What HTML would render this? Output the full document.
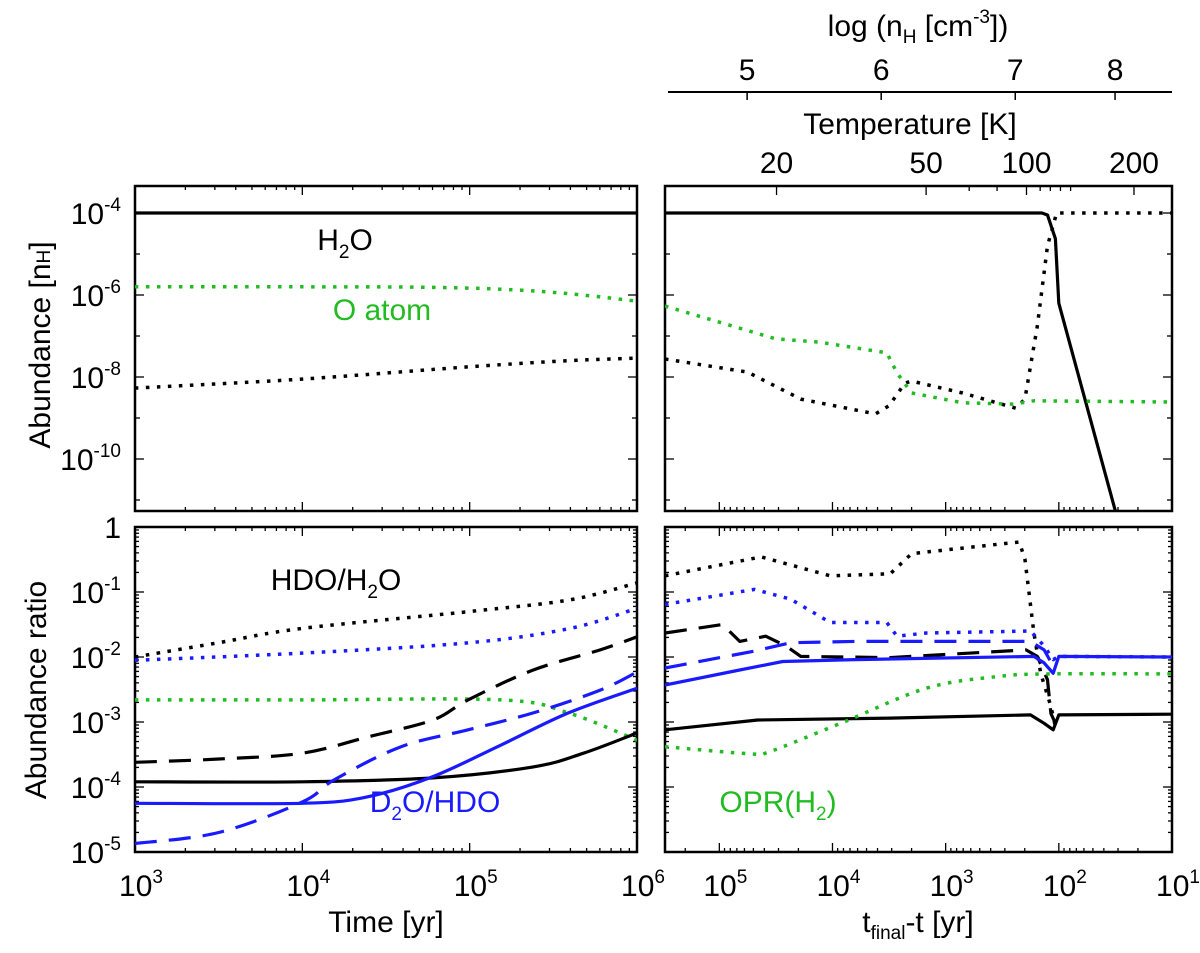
<!DOCTYPE html>
<html><head><meta charset="utf-8"><style>
html,body{margin:0;padding:0;background:#fff;}
svg{display:block;font-family:"Liberation Sans",sans-serif;}
</style></head><body>
<svg id="fig" width="1200" height="953" viewBox="0 0 1200 953" xmlns="http://www.w3.org/2000/svg">
<defs>
<clipPath id="cTL"><rect x="135" y="186" width="502" height="325"/></clipPath>
<clipPath id="cTR"><rect x="665" y="186" width="507" height="325"/></clipPath>
<clipPath id="cBL"><rect x="135" y="527" width="502" height="325"/></clipPath>
<clipPath id="cBR"><rect x="665" y="527" width="507" height="325"/></clipPath>
</defs>
<g id="layer"></g>
</svg>
<script>
// ---------- data (log10 values) ----------
const tlX = [3, 3.5, 4, 4.5, 5, 5.5, 6];
const tlH2O = [-4, -4, -4, -4, -4, -4, -4];
const tlOatomX = [3, 4, 4.7, 5.2, 5.6, 6];
const tlOatom = [-5.8, -5.8, -5.81, -5.86, -5.97, -6.15];
const tlOtherX = [3, 4, 5, 5.6, 6];
const tlOther = [-8.27, -8.05, -7.75, -7.6, -7.54];
const trH2OX = [5.48, 2.15, 2.10, 2.03, 2.0, 1.5];
const trH2O = [-4, -4, -4.05, -4.63, -6.2, -11.27];
const trOtherX = [5.48, 4.75, 4.28, 3.62, 3.5, 3.36, 3.3, 2.85, 2.38, 2.30, 2.19, 2.10, 2.02, 1.0];
const trOther = [-7.56, -7.88, -8.54, -8.9, -8.7, -8.15, -8.1, -8.39, -8.76, -8.54, -6.76, -4.8, -4.0, -4.0];
const trOatomX = [5.48, 4.5, 4.12, 3.52, 3.43, 3.3, 2.85, 2.4, 2.22, 1.0];
const trOatom = [-6.27, -7.07, -7.15, -7.41, -7.9, -8.39, -8.63, -8.66, -8.58, -8.61];
const blHdoDotX = [3, 3.5, 4, 5, 5.6, 6];
const blHdoDot = [-2.0, -1.78, -1.56, -1.3, -1.12, -0.86];
const blBlueDotX = [3, 4, 5, 5.6, 6];
const blBlueDot = [-2.05, -1.94, -1.78, -1.56, -1.25];
const blGreenX = [3, 4, 5.19, 5.59, 6];
const blGreen = [-2.66, -2.66, -2.66, -2.86, -3.28];
const blBlackDashX = [3, 3.5, 4, 4.39, 4.78, 4.99, 5.38, 5.78, 6];
const blBlackDash = [-3.62, -3.57, -3.48, -3.23, -2.97, -2.66, -2.2, -1.89, -1.69];
const blBlackX = [3, 4, 4.78, 5.38, 5.68, 6];
const blBlack = [-3.92, -3.92, -3.86, -3.69, -3.48, -3.17];
const blBlueX = [3, 4, 4.39, 4.78, 5.19, 5.59, 6];
const blBlue = [-4.25, -4.25, -4.15, -3.84, -3.35, -2.86, -2.48];
const blBlueDashX = [3, 3.5, 4, 4.19, 4.59, 4.99, 5.38, 5.78, 6];
const blBlueDash = [-4.87, -4.7, -4.23, -3.89, -3.38, -3.12, -2.86, -2.51, -2.23];
const brHdoDotX = [5.48, 4.63, 4.02, 3.49, 3.30, 2.35, 2.30, 2.22, 2.16, 2.07, 2.03];
const brHdoDot = [-0.75, -0.46, -0.75, -0.72, -0.41, -0.23, -0.49, -1.63, -2.25, -2.76, -3.07];
const brBlueDotX = [5.48, 4.69, 4.37, 4.02, 3.52, 3.43, 3.17, 2.25, 2.13, 2.05, 2.0, 1.0];
const brBlueDot = [-1.19, -0.96, -1.11, -1.47, -1.47, -1.68, -1.63, -1.6, -1.83, -2.04, -1.99, -2.0];
const brBlackDashX = [5.48, 4.97, 4.82, 4.59, 4.41, 4.28, 3.49, 2.29, 2.19, 2.10, 2.07, 2.03];
const brBlackDash = [-1.63, -1.5, -1.76, -1.68, -1.83, -1.99, -2.01, -1.89, -1.99, -2.35, -2.87, -3.02];
const brBlueDashX = [5.48, 4.69, 4.37, 3.80, 2.25, 2.13, 2.03];
const brBlueDash = [-2.17, -1.91, -1.78, -1.76, -1.76, -1.89, -2.2];
const brBlueX = [5.48, 4.82, 4.44, 3.80, 2.22, 2.13, 2.05, 2.0, 1.0];
const brBlue = [-2.43, -2.2, -2.07, -2.04, -1.99, -2.09, -2.25, -1.99, -2.0];
const brBlackX = [5.48, 4.66, 3.49, 2.25, 2.13, 2.05, 2.0, 1.0];
const brBlack = [-3.12, -2.97, -2.94, -2.89, -3.02, -3.12, -2.89, -2.88];
const brGreenX = [5.48, 4.72, 4.56, 3.90, 3.17, 2.54, 2.07, 1.0];
const brGreen = [-3.38, -3.49, -3.46, -3.0, -2.48, -2.3, -2.26, -2.26];
const leftXTicks = [3, 4, 5, 6];
const rightXTicks = [5, 4, 3, 2, 1];
const topYTicks = [-4, -6, -8, -10];
const botYTicks = [-1, -2, -3, -4, -5];
const nHTicks = [5, 6, 7, 8];
const tempTicks = [20, 50, 100, 200];
const nHFrac = [0.157, 0.423, 0.689, 0.887];
const tempFrac = [0.22, 0.515, 0.713, 0.925];

// ---------- axis functions ----------
const xL = l => 135 + (l - 3) / 3 * 502;
const xR = l => 665 + (5.48 - l) / 4.48 * 507;
const yT = v => 213 - (v + 4) * 41;
const yB = v => 527 - v * 65;

const NS = 'http://www.w3.org/2000/svg';
const layer = document.getElementById('layer');
function mk(tag, attrs, parent) {
  const e = document.createElementNS(NS, tag);
  for (const k in attrs) e.setAttribute(k, attrs[k]);
  (parent || layer).appendChild(e);
  return e;
}
const BLUE = '#1a1aff', GREEN = '#22bb22', BLACK = '#000';
const DOT = '3.5 7.5', DASH = '22 12';
function series(xs, ys, fx, fy, color, dash, clip, name, smooth) {
  const P = xs.map((x, i) => [fx(x), fy(ys[i])]);
  let d = 'M' + P[0][0].toFixed(1) + ',' + P[0][1].toFixed(1);
  for (let i = 0; i < P.length - 1; i++) {
    if (smooth) {
      const p0 = P[Math.max(i - 1, 0)], p1 = P[i], p2 = P[i + 1], p3 = P[Math.min(i + 2, P.length - 1)];
      const c1 = [p1[0] + (p2[0] - p0[0]) / 6, p1[1] + (p2[1] - p0[1]) / 6];
      const c2 = [p2[0] - (p3[0] - p1[0]) / 6, p2[1] - (p3[1] - p1[1]) / 6];
      d += 'C' + c1.map(v => v.toFixed(1)).join(',') + ' ' + c2.map(v => v.toFixed(1)).join(',') + ' ' + p2.map(v => v.toFixed(1)).join(',');
    } else {
      d += 'L' + P[i + 1][0].toFixed(1) + ',' + P[i + 1][1].toFixed(1);
    }
  }
  const p = mk('path', {d: d, fill: 'none', stroke: color, 'stroke-width': dash === DOT ? 3.5 : 3.2, 'clip-path': 'url(#' + clip + ')', 'stroke-linejoin': 'round'});
  if (dash) p.setAttribute('stroke-dasharray', dash);
  
  
}
function text(x, y, s, size, anchor, color, name) {
  const t = mk('text', {x: x, y: y, 'font-size': size, 'text-anchor': anchor || 'middle', fill: color || '#000'});
  t.innerHTML = s;
  
  
  return t;
}
function line(x1, y1, x2, y2, w) { return mk('line', {x1: x1, y1: y1, x2: x2, y2: y2, stroke: '#000', 'stroke-width': w || 1.5}); }

// ---------- frames and ticks ----------
const frames = [[135, 186, 502, 325, 'top-left-frame'], [665, 186, 507, 325, 'top-right-frame'], [135, 527, 502, 325, 'bottom-left-frame'], [665, 527, 507, 325, 'bottom-right-frame']];
frames.forEach(f => {
  const r = mk('rect', {x: f[0], y: f[1], width: f[2], height: f[3], fill: 'none', stroke: '#000', 'stroke-width': 2.5});
  
  
});
function xticks(fx, lo, hi, y0, y1) {
  for (let d = Math.floor(lo); d <= hi; d++) {
    for (let m = 1; m < 10; m++) {
      const l = d + Math.log10(m);
      if (l < lo - 1e-6 || l > hi + 1e-6) continue;
      const len = m === 1 ? 9 : 4;
      line(fx(l), y0, fx(l), y0 + len, 1.3);
      line(fx(l), y1, fx(l), y1 - len, 1.3);
    }
  }
}
xticks(xL, 3, 6, 186, 511); xticks(xL, 3, 6, 527, 852);
xticks(xR, 1, 5.48, 527, 852);
for (let d = 1; d <= 5; d++) for (let m = 1; m < 10; m++) {
  const l = d + Math.log10(m); if (l > 5.48) continue;
  line(xR(l), 511, xR(l), 511 - (m === 1 ? 9 : 4), 1.3);
}
tempFrac.forEach(f => line(665 + f * 507, 186, 665 + f * 507, 195, 1.3));
[0.6, 0.655, 0.74, 0.76, 0.78, 0.8].forEach(f => line(665 + f * 507, 186, 665 + f * 507, 191, 1.3));
for (let v = -11; v <= -4; v++) { const len = v % 2 === 0 ? 9 : 5; line(135, yT(v), 135 + len, yT(v), 1.3); line(637, yT(v), 637 - len, yT(v), 1.3); line(665, yT(v), 665 + len, yT(v), 1.3); line(1172, yT(v), 1172 - len, yT(v), 1.3); }
for (let d = -5; d < 0; d++) for (let m = 1; m < 10; m++) {
  const v = d + Math.log10(m); const len = m === 1 ? 9 : 4;
  line(135, yB(v), 135 + len, yB(v), 1.3); line(637, yB(v), 637 - len, yB(v), 1.3);
  line(665, yB(v), 665 + len, yB(v), 1.3); line(1172, yB(v), 1172 - len, yB(v), 1.3);
}

// ---------- tick labels ----------
const sup = e => '10<tspan dy="-13" font-size="19">' + e + '</tspan>';
topYTicks.forEach(v => text(121, yT(v) + 11, sup(v), 30, 'end', '#000', 'y-tick-label'));
text(121, 538, '1', 30, 'end', '#000', 'y-tick-label');
botYTicks.forEach(v => text(121, yB(v) + 11, sup(v), 30, 'end', '#000', 'y-tick-label'));
leftXTicks.forEach(l => text(xL(l) + 6, 896, sup(l), 30, 'middle', '#000', 'x-tick-label'));
rightXTicks.forEach(l => text(xR(l) + 6, 896, sup(l), 30, 'middle', '#000', 'x-tick-label'));

const t1 = text(0, 0, 'Abundance [n<tspan font-size="19">H</tspan>]', 30, 'middle', '#000', 'top-y-axis-title');
t1.setAttribute('transform', 'translate(50,345) rotate(-90)');
const t2 = text(0, 0, 'Abundance ratio', 30, 'middle', '#000', 'bottom-y-axis-title');
t2.setAttribute('transform', 'translate(46,690) rotate(-90)');
text(386, 932, 'Time [yr]', 30, 'middle', '#000', 'left-x-axis-title');
text(918, 932, 't<tspan dy="7" font-size="19">final</tspan><tspan dy="-7">-t [yr]</tspan>', 30, 'middle', '#000', 'right-x-axis-title');

text(918, 36, 'log (n<tspan dy="7" font-size="19">H</tspan><tspan dy="-7"> [cm</tspan><tspan dy="-13" font-size="19">-3</tspan><tspan dy="13">])</tspan>', 30, 'middle', '#000', 'density-axis-title');
line(668, 92, 1172, 92, 2);
nHTicks.forEach((n, i) => { const x = 668 + nHFrac[i] * 504; line(x, 92, x, 100, 1.5); text(x, 80, n, 30, 'middle', '#000', 'density-tick-label'); });
text(910, 134, 'Temperature [K]', 30, 'middle', '#000', 'temperature-axis-title');
tempTicks.forEach((t, i) => text(665 + tempFrac[i] * 507, 173, t, 30, 'middle', '#000', 'temperature-tick-label'));

// ---------- series ----------
series(tlX, tlH2O, xL, yT, BLACK, null, 'cTL', 'h2o-line-left', true);
series(tlOatomX, tlOatom, xL, yT, GREEN, DOT, 'cTL', 'o-atom-line-left', true);
series(tlOtherX, tlOther, xL, yT, BLACK, DOT, 'cTL', 'gas-water-line-left', true);
series(trH2OX, trH2O, xR, yT, BLACK, null, 'cTR', 'h2o-line-right');
series(trOtherX, trOther, xR, yT, BLACK, DOT, 'cTR', 'gas-water-line-right');
series(trOatomX, trOatom, xR, yT, GREEN, DOT, 'cTR', 'o-atom-line-right');

series(blHdoDotX, blHdoDot, xL, yB, BLACK, DOT, 'cBL', 'hdo-h2o-dotted-left', true);
series(blBlueDotX, blBlueDot, xL, yB, BLUE, DOT, 'cBL', 'd2o-hdo-dotted-left', true);
series(blGreenX, blGreen, xL, yB, GREEN, DOT, 'cBL', 'opr-line-left', true);
series(blBlackDashX, blBlackDash, xL, yB, BLACK, DASH, 'cBL', 'hdo-h2o-dashed-left', true);
series(blBlackX, blBlack, xL, yB, BLACK, null, 'cBL', 'hdo-h2o-solid-left', true);
series(blBlueX, blBlue, xL, yB, BLUE, null, 'cBL', 'd2o-hdo-solid-left', true);
series(blBlueDashX, blBlueDash, xL, yB, BLUE, DASH, 'cBL', 'd2o-hdo-dashed-left', true);

series(brHdoDotX, brHdoDot, xR, yB, BLACK, DOT, 'cBR', 'hdo-h2o-dotted-right');
series(brBlueDotX, brBlueDot, xR, yB, BLUE, DOT, 'cBR', 'd2o-hdo-dotted-right');
series(brBlackDashX, brBlackDash, xR, yB, BLACK, DASH, 'cBR', 'hdo-h2o-dashed-right');
series(brBlueDashX, brBlueDash, xR, yB, BLUE, DASH, 'cBR', 'd2o-hdo-dashed-right');
series(brBlueX, brBlue, xR, yB, BLUE, null, 'cBR', 'd2o-hdo-solid-right');
series(brBlackX, brBlack, xR, yB, BLACK, null, 'cBR', 'hdo-h2o-solid-right');
series(brGreenX, brGreen, xR, yB, GREEN, DOT, 'cBR', 'opr-line-right', true);

const sub = s => '<tspan dy="8" font-size="19">' + s + '</tspan><tspan dy="-8">';
text(345, 250, 'H' + sub('2') + 'O</tspan>', 30, 'middle', '#000', 'h2o-label');
text(382, 320, 'O atom', 30, 'middle', GREEN, 'o-atom-label');
text(336, 590, 'HDO/H' + sub('2') + 'O</tspan>', 30, 'middle', '#000', 'hdo-h2o-label');
text(435, 812, 'D' + sub('2') + 'O/HDO</tspan>', 30, 'middle', BLUE, 'd2o-hdo-label');
text(778, 812, 'OPR(H' + sub('2') + ')</tspan>', 30, 'middle', GREEN, 'opr-label');
</script>
</body></html>
